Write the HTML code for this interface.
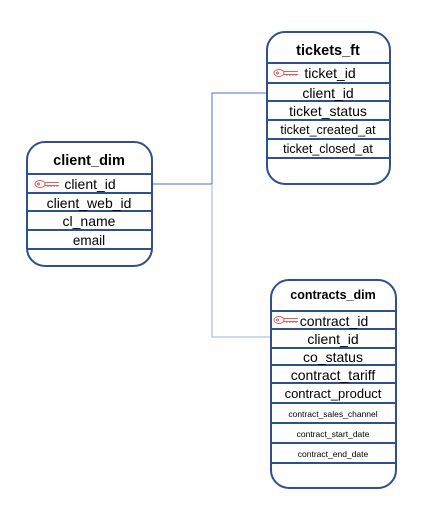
<!DOCTYPE html>
<html><head><style>
html,body{margin:0;padding:0;background:#fff;}
svg{display:block;}
text{font-family:"Liberation Sans",Calibri,sans-serif;fill:#000;text-anchor:middle;}
</style></head><body>
<svg width="442" height="521" viewBox="0 0 442 521" xmlns="http://www.w3.org/2000/svg">
<defs>
<g id="key" fill="none" stroke="#e06060" stroke-width="1">
<ellipse cx="5" cy="0" rx="5" ry="3.5"/>
<circle cx="3.5" cy="0" r="1"/>
<path d="M10 -1.5 H24 M10 1.5 H24 M13 1.5 V3 M16 1.5 V3 M19 1.5 V3 M22 1.5 V3"/>
</g>
</defs>
<path d="M152 184 H212 V93 H267" fill="none" stroke="#4a74c0" stroke-width="1"/>
<path d="M212 184 V337 H271" fill="none" stroke="#9db6e0" stroke-width="1"/>

<g stroke="#2f4f8f" stroke-width="2" fill="none">
<rect x="27" y="142" width="125" height="124" rx="18"/>
<path d="M27 174 H152 M27 193 H152 M27 211 H152 M27 230 H152 M27 249 H152"/>
</g>
<text x="89" y="165" font-size="14.5" font-weight="bold">client_dim</text>
<use href="#key" x="35" y="184"/>
<text x="90" y="189" font-size="14">client_id</text>
<text x="89" y="208" font-size="14">client_web_id</text>
<text x="89" y="226" font-size="14">cl_name</text>
<text x="89" y="245" font-size="13.5">email</text>

<g stroke="#2f4f8f" stroke-width="2" fill="none">
<rect x="267" y="32" width="123" height="152" rx="18"/>
<path d="M267 63 H390 M267 83 H390 M267 101 H390 M267 120 H390 M267 139 H390 M267 158 H390"/>
</g>
<text x="328" y="55" font-size="14.5" font-weight="bold">tickets_ft</text>
<use href="#key" x="274" y="73"/>
<text x="330" y="78" font-size="14">ticket_id</text>
<text x="328" y="98" font-size="14">client_id</text>
<text x="328" y="116" font-size="14">ticket_status</text>
<text x="328" y="134" font-size="12.5">ticket_created_at</text>
<text x="328" y="153" font-size="12.5">ticket_closed_at</text>

<g stroke="#2f4f8f" stroke-width="2" fill="none">
<rect x="271" y="280" width="125" height="208" rx="18"/>
<path d="M271 311 H396 M271 329 H396 M271 348 H396 M271 365 H396 M271 383 H396 M271 403 H396 M271 423 H396 M271 443 H396 M271 463 H396"/>
</g>
<text x="333" y="299" font-size="12.5" font-weight="bold">contracts_dim</text>
<use href="#key" x="274" y="320"/>
<text x="334" y="326" font-size="14">contract_id</text>
<text x="333" y="344" font-size="14">client_id</text>
<text x="333" y="362" font-size="14">co_status</text>
<text x="333" y="380" font-size="14">contract_tariff</text>
<text x="333" y="398" font-size="13">contract_product</text>
<text x="333" y="417" font-size="8.5">contract_sales_channel</text>
<text x="333" y="437" font-size="8.5">contract_start_date</text>
<text x="333" y="457" font-size="8.5">contract_end_date</text>
</svg>
</body></html>
